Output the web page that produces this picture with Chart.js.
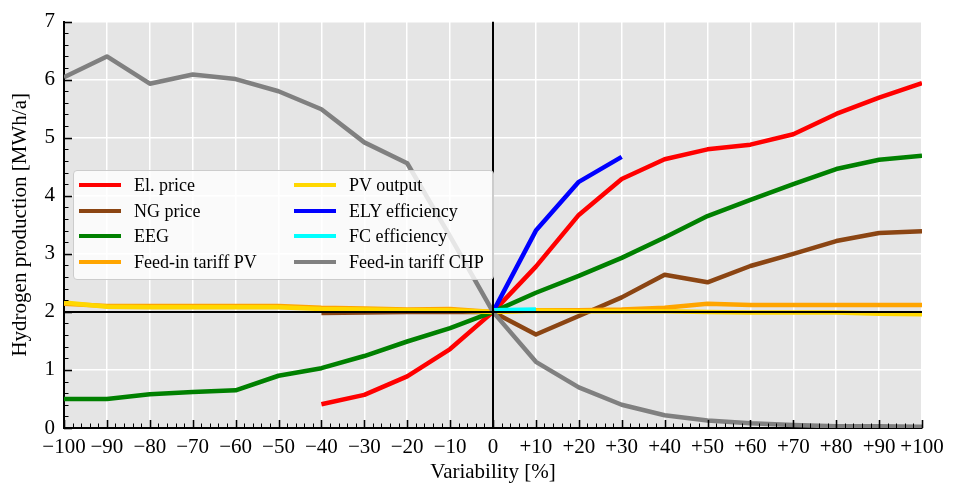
<!DOCTYPE html>
<html lang="en">
<head>
   <meta charset="UTF-8">
   <title>Hydrogen production vs variability</title>
   <script src="https://cdn.jsdelivr.net/npm/chart.js"></script>
   <style>
      body { margin: 0; background: #fff; }
      #wrap { position: relative; width: 956px; height: 489px; }
      #legend {
         position: absolute; left: 73px; top: 170px; width: 419px; height: 108px;
         background: rgba(255, 255, 255, 0.8); border: 1px solid #cccccc; border-radius: 4px;
         font-family: 'Liberation Serif', serif; font-size: 18px; color: #000;
      }
      .item { position: absolute; height: 20px; line-height: 20px; white-space: nowrap; }
      .item span.swatch { position: absolute; left: 0; top: 8px; width: 42px; height: 4px; }
      .item span.label { position: absolute; left: 55px; top: 0; }
   </style>
</head>
<body>
   <div id="wrap">
      <canvas id="chart" width="956" height="489"></canvas>
      <div id="legend"></div>
   </div>

   <script>
      // data
      const xValues = [-100, -90, -80, -70, -60, -50, -40, -30, -20, -10, 0, 10, 20, 30, 40, 50, 60, 70, 80, 90, 100];
      const elPrice = [null, null, null, null, null, null, 0.41, 0.57, 0.89, 1.36, 2.0, 2.78, 3.67, 4.29, 4.63, 4.80, 4.88, 5.06, 5.41, 5.69, 5.94];
      const ngPrice = [null, null, null, null, null, null, 1.98, 1.99, 2.0, 2.0, 2.0, 1.61, 1.93, 2.25, 2.64, 2.51, 2.79, 3.0, 3.22, 3.36, 3.39];
      const eeg = [0.50, 0.50, 0.58, 0.62, 0.65, 0.90, 1.03, 1.24, 1.49, 1.72, 2.0, 2.33, 2.62, 2.93, 3.28, 3.65, 3.93, 4.20, 4.46, 4.62, 4.69];
      const feedInPV = [2.14, 2.10, 2.10, 2.10, 2.10, 2.10, 2.07, 2.06, 2.04, 2.05, 2.0, 2.03, 2.03, 2.04, 2.07, 2.14, 2.12, 2.12, 2.12, 2.12, 2.12];
      const pvOutput = [2.16, 2.09, 2.08, 2.08, 2.08, 2.08, 2.05, 2.04, 2.03, 2.03, 2.0, 2.02, 2.01, 2.01, 2.01, 2.0, 1.99, 1.99, 1.99, 1.97, 1.96];
      const elyEff = [null, null, null, null, null, null, null, null, null, null, 2.0, 3.40, 4.24, 4.67, null, null, null, null, null, null, null];
      const fcEff = [null, null, null, null, null, null, null, null, null, null, 2.03, 2.04, null, null, null, null, null, null, null, null, null];
      const feedInCHP = [6.04, 6.40, 5.93, 6.09, 6.01, 5.80, 5.49, 4.92, 4.56, 3.30, 2.0, 1.14, 0.70, 0.40, 0.22, 0.13, 0.08, 0.05, 0.03, 0.03, 0.02];

      const seriesNames = ['El. price', 'NG price', 'EEG', 'Feed-in tariff PV', 'PV output', 'ELY efficiency', 'FC efficiency', 'Feed-in tariff CHP'];
      const seriesValues = [elPrice, ngPrice, eeg, feedInPV, pvOutput, elyEff, fcEff, feedInCHP];
      const seriesColors = ['#ff0000', '#8b4513', '#008000', '#ffa500', '#ffd700', '#0000ff', '#00ffff', '#808080'];

      const baseValue = 2.0;   // horizontal reference line
      const yTicks = [0, 1, 2, 3, 4, 5, 6, 7];

      const FONT = 'Liberation Serif';

      // later series on top, like the original plot
      const datasets = seriesValues.map((vals, i) => ({
         label: seriesNames[i],
         data: xValues.map((x, j) => ({ x: x, y: vals[j] })),
         borderColor: seriesColors[i],
         backgroundColor: seriesColors[i],
         borderWidth: 4.5,
         pointRadius: 0,
         tension: 0,
         spanGaps: false,
         borderJoinStyle: 'round',
         order: 20 - i
      }));

      // black reference cross
      datasets.push({
         label: 'ref-h',
         data: [{ x: xValues[0], y: baseValue }, { x: xValues[xValues.length - 1], y: baseValue }],
         borderColor: '#000', borderWidth: 2, pointRadius: 0, order: 1
      });
      datasets.push({
         label: 'ref-v',
         data: [{ x: 0, y: yTicks[0] }, { x: 0, y: yTicks[yTicks.length - 1] }],
         borderColor: '#000', borderWidth: 2, pointRadius: 0, order: 1
      });

      // grey plot background
      const areaBg = {
         id: 'areaBg',
         beforeDraw(chart) {
            const { ctx, chartArea: a } = chart;
            ctx.save();
            ctx.fillStyle = '#e5e5e5';
            ctx.fillRect(a.left, a.top, a.right - a.left, a.bottom - a.top);
            ctx.restore();
         }
      };

      // inward major + minor ticks
      const inTicks = {
         id: 'inTicks',
         afterDraw(chart) {
            const { ctx, chartArea: a, scales } = chart;
            ctx.save();
            ctx.strokeStyle = '#000';
            for (let v = -100; v <= 100; v += 2) {
               const major = v % 10 === 0;
               const px = Math.round(scales.x.getPixelForValue(v)) + 0.5;
               ctx.lineWidth = major ? 1.6 : 1;
               ctx.beginPath();
               ctx.moveTo(px, a.bottom);
               ctx.lineTo(px, a.bottom - (major ? 8 : 4.5));
               ctx.stroke();
            }
            for (let k = 0; k <= 35; k++) {
               const v = k / 5;
               const major = k % 5 === 0;
               const py = Math.round(scales.y.getPixelForValue(v)) + 0.5;
               ctx.lineWidth = major ? 1.6 : 1;
               ctx.beginPath();
               ctx.moveTo(a.left, py);
               ctx.lineTo(a.left + (major ? 8 : 4.5), py);
               ctx.stroke();
            }
            ctx.restore();
         }
      };

      const fmtX = v => v === 0 ? '0' : (v > 0 ? '+' + v : '\u2212' + Math.abs(v));

      new Chart(document.getElementById('chart').getContext('2d'), {
         type: 'line',
         data: { datasets: datasets },
         options: {
            responsive: false,
            animation: false,
            events: [],
            layout: { padding: { top: 20, right: 34, bottom: 0, left: 0 } },
            plugins: { legend: { display: false }, tooltip: { enabled: false } },
            scales: {
               x: {
                  type: 'linear',
                  min: -100, max: 100,
                  afterFit: s => { s.height = 61; },
                  afterBuildTicks: s => { s.ticks = xValues.map(v => ({ value: v })); },
                  ticks: { callback: fmtX, autoSkip: false, maxRotation: 0, padding: 7, color: '#000', font: { family: FONT, size: 21 } },
                  grid: { color: '#ffffff', lineWidth: 1.5, drawTicks: false },
                  border: { color: '#000', width: 2 },
                  title: { display: true, text: 'Variability [%]', color: '#000', font: { family: FONT, size: 21 }, padding: { top: 0, bottom: 4 } }
               },
               y: {
                  min: 0, max: 7,
                  afterFit: s => { s.width = 64; },
                  afterBuildTicks: s => { s.ticks = yTicks.map(v => ({ value: v })); },
                  ticks: { padding: 9, color: '#000', font: { family: FONT, size: 21 } },
                  grid: { color: '#ffffff', lineWidth: 1.5, drawTicks: false },
                  border: { color: '#000', width: 2 },
                  title: { display: true, text: 'Hydrogen production [MWh/a]', color: '#000', font: { family: FONT, size: 21 }, padding: { top: 8, bottom: 0 } }
               }
            }
         },
         plugins: [areaBg, inTicks]
      });

      // legend inside the plot, two columns of four
      const legend = document.getElementById('legend');
      seriesNames.forEach((name, i) => {
         const col = Math.floor(i / 4), row = i % 4;
         const item = document.createElement('div');
         item.className = 'item';
         item.style.left = (col === 0 ? 5 : 220) + 'px';
         item.style.top = (4 + row * 25.7) + 'px';
         item.innerHTML = `<span class="swatch" style="background:${seriesColors[i]}"></span><span class="label">${name}</span>`;
         legend.appendChild(item);
      });
   </script>
</body>
</html>
